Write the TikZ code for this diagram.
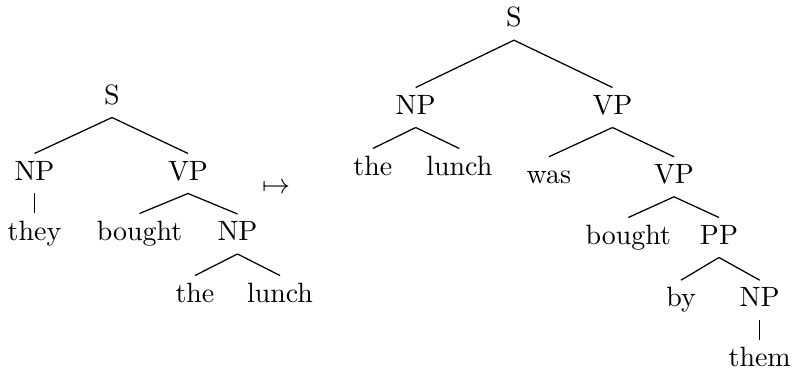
\documentclass[tikz,border=0pt]{standalone}
\begin{document}
\begin{tikzpicture}[x=0.358pt, y=-0.358pt,
  cat/.style={anchor=base, inner xsep=1pt, inner ysep=2.35pt,
              text height=6.94pt, text depth=2.28pt},
  branch/.style={line width=0.45pt}]
\useasboundingbox (0,0) rectangle (794,369);

% active sentence
\node[cat] (lS)      at (112,104)   {S};
\node[cat] (lNP)     at (34.5,180)  {NP};
\node[cat] (lVP)     at (188,180)   {VP};
\node[cat] (lthey)   at (34.5,240)  {they};
\node[cat] (lbought) at (139.5,240) {bought};
\node[cat] (lNPb)    at (237.5,240.5) {NP};
\node[cat] (lthe)    at (195,302)   {the};
\node[cat] (llunch)  at (280,302)   {lunch};

\draw[branch] (lS.south) -- (lNP.north);
\draw[branch] (lS.south) -- (lVP.north);
\draw[branch] (lNP.south) -- (lthey.north);
\draw[branch] (lVP.south) -- (lbought.north);
\draw[branch] (lVP.south) -- (lNPb.north);
\draw[branch] (lNPb.south) -- (lthe.north);
\draw[branch] (lNPb.south) -- (llunch.north);

% mapping arrow
\node (map) at (276,188) {$\mapsto$};

% passive sentence
\node[cat] (rS)      at (514,26.7)  {S};
\node[cat] (rNP)     at (415.7,114) {NP};
\node[cat] (rVP)     at (612.5,114) {VP};
\node[cat] (rthe)    at (372.8,175) {the};
\node[cat] (rlunch)  at (459.3,175) {lunch};
\node[cat] (rwas)    at (548.8,183.3) {was};
\node[cat] (rVPb)    at (674,183.3) {VP};
\node[cat] (rbought) at (628.3,244) {bought};
\node[cat] (rPP)     at (719,244)   {PP};
\node[cat] (rby)     at (681,306.7) {by};
\node[cat] (rNPb)    at (759.7,306.7) {NP};
\node[cat] (rthem)   at (759.7,366.7) {them};

\draw[branch] (rS.south) -- (rNP.north);
\draw[branch] (rS.south) -- (rVP.north);
\draw[branch] (rNP.south) -- (rthe.north);
\draw[branch] (rNP.south) -- (rlunch.north);
\draw[branch] (rVP.south) -- (rwas.north);
\draw[branch] (rVP.south) -- (rVPb.north);
\draw[branch] (rVPb.south) -- (rbought.north);
\draw[branch] (rVPb.south) -- (rPP.north);
\draw[branch] (rPP.south) -- (rby.north);
\draw[branch] (rPP.south) -- (rNPb.north);
\draw[branch] (rNPb.south) -- (rthem.north);
\end{tikzpicture}
\end{document}
